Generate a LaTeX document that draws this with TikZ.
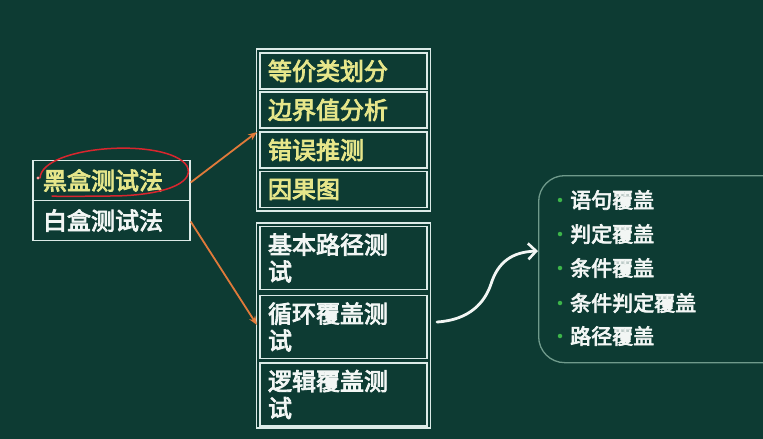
\documentclass[tikz,border=0pt]{standalone}
\usepackage{fontspec}
\newfontfamily\cjk{Noto Sans CJK SC}[AutoFakeBold=3.5]
\usetikzlibrary{arrows.meta,calc}
\definecolor{bg}{HTML}{0D3B33}
\definecolor{ylw}{HTML}{E6E68A}
\definecolor{wht}{HTML}{F2F6F4}
\definecolor{frame}{HTML}{DCEBE8}
\definecolor{org}{HTML}{E07A3A}
\definecolor{redpen}{HTML}{D8262E}
\definecolor{listframe}{HTML}{6F9A8B}
\definecolor{dot}{HTML}{3DB54A}
\tikzset{
  cell/.style={draw=frame, line width=1.3pt, inner xsep=8pt, inner ysep=0pt,
    text width=151pt, align=left, font=\cjk\bfseries\fontsize{24}{27}\selectfont},
  ycell/.style={cell, text=ylw, minimum height=36pt},
  wcell/.style={cell, text=wht, minimum height=63pt},
  grp/.style={draw=frame, line width=1.3pt, minimum width=174pt},
  lcell/.style={draw=frame, line width=1.3pt, minimum width=157pt, minimum height=40pt,
    inner xsep=10pt, text width=137pt, align=left, font=\cjk\bfseries\fontsize{24}{27}\selectfont},
  orarrow/.style={draw=org, line width=1.8pt, -{Stealth[length=9pt,width=7pt]}},
  item/.style={anchor=west, inner sep=0pt, text=wht, font=\cjk\bfseries\fontsize{21}{24}\selectfont},
  bul/.style={fill=dot, circle, inner sep=0pt, minimum size=4.5pt},
}
\begin{document}
\begin{tikzpicture}[x=1pt,y=-1pt]
\fill[bg] (0,0) rectangle (763,439);
\useasboundingbox (0,0) rectangle (763,439);

% left box
\node[lcell, text=ylw] (black) at (111.5,180.5) {黑盒测试法};
\node[lcell, text=wht] (whitebox) at (111.5,220.5) {白盒测试法};

% top right group
\node[grp, minimum height=162pt] (topgrp) at (343.5,130) {};
\node[ycell] (c1) at (343.5,71) {等价类划分};
\node[ycell] (c2) at (343.5,110) {边界值分析};
\node[ycell] (c3) at (343.5,150) {错误推测};
\node[ycell] (c4) at (343.5,189.5) {因果图};

% bottom right group
\node[grp, minimum height=205pt] (botgrp) at (343.5,325.5) {};
\node[wcell] (c5) at (343.5,258) {基本路径测\\试};
\node[wcell] (c6) at (343.5,327) {循环覆盖测\\试};
\node[wcell] (c7) at (343.5,394.5) {逻辑覆盖测\\试};

% orange arrows
\coordinate (t1) at (257,132);
\coordinate (t2) at (257,325);
\draw[orarrow] ($(black.east)+(0,2)$) -- (t1);
\draw[orarrow] ($(whitebox.east)+(0,1)$) -- (t2);

% red hand-drawn ellipse
\draw[redpen, line width=1.5pt, line cap=round]
  (40,178) .. controls (42,145) and (168,137) .. (187,166)
  .. controls (196,184) and (160,196) .. (110,196)
  .. controls (85,196) and (65,197) .. (52,196);
\fill[red!40!white] (38,178) circle (1.6pt);

% list frame
\node[draw=listframe, line width=1.3pt, rounded corners=26pt, minimum width=260pt,
  minimum height=187pt, anchor=north west] (list) at (538,175) {};

\node[item] (i1) at (570,200) {语句覆盖};
\node[item] (i2) at (570,234) {判定覆盖};
\node[item] (i3) at (570,268) {条件覆盖};
\node[item] (i4) at (570,303) {条件判定覆盖};
\node[item] (i5) at (570,336) {路径覆盖};
\foreach \i in {1,...,5} {
  \node[bul] (b\i) at ($(i\i.west)+(-10,0)$) {};
}

% white curved arrow
\coordinate (ws) at (437,322);
\coordinate (we) at (538,251);
\draw[wht, line width=2.8pt, line cap=round, -{Straight Barb[length=8pt,width=16pt,line width=2.6pt]}]
  (ws) .. controls (470,320) and (485,302) .. (491,284)
  .. controls (498,262) and (512,252) .. (we);
\end{tikzpicture}
\end{document}
